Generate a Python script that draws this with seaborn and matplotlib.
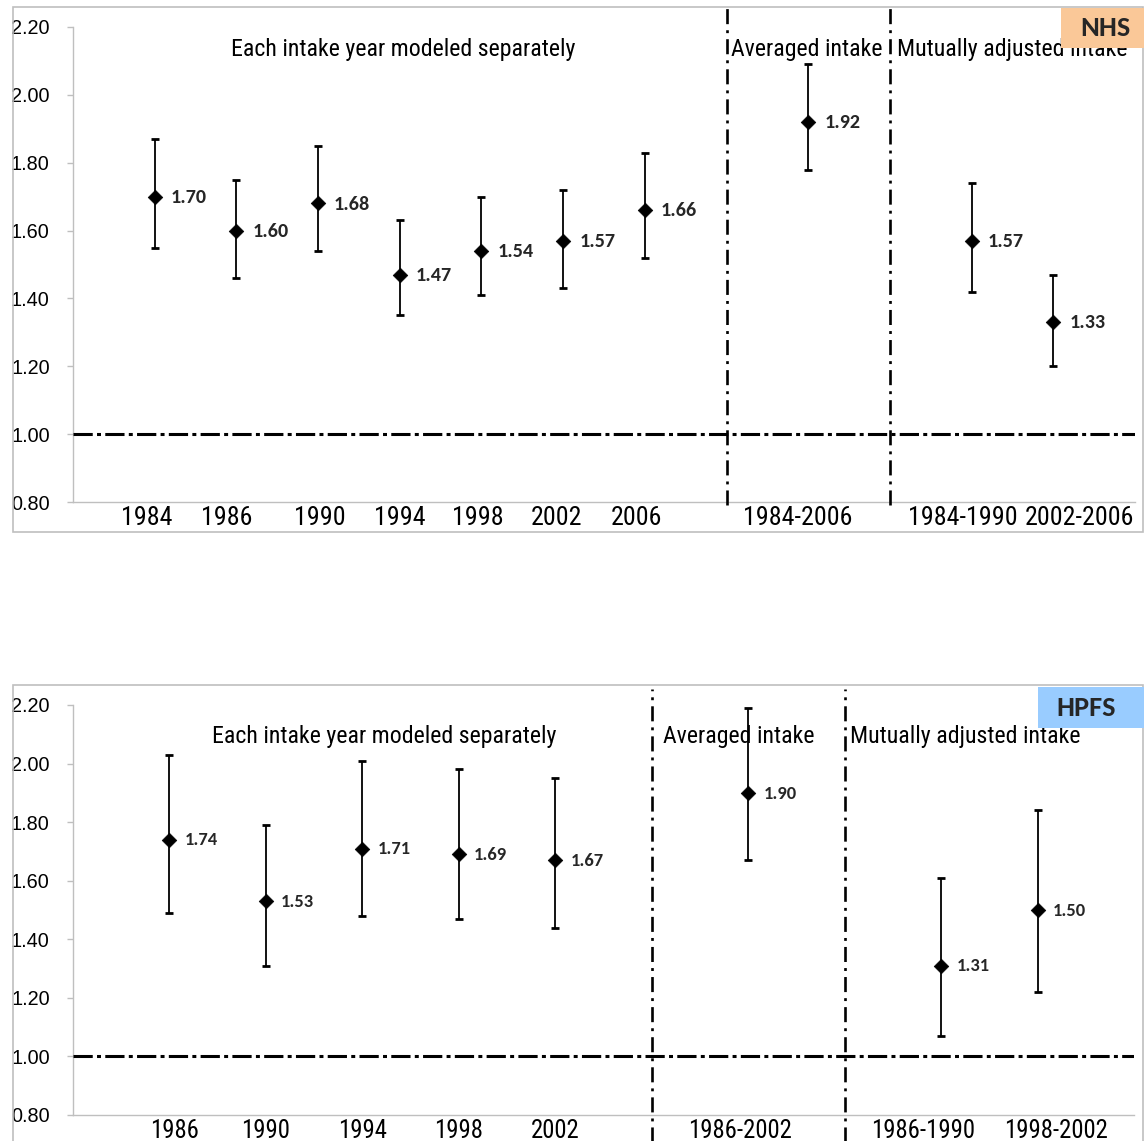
import matplotlib
matplotlib.use("Agg")
import matplotlib.pyplot as plt
import matplotlib.font_manager as fm
from matplotlib.font_manager import FontProperties
from matplotlib.patches import Rectangle
from matplotlib.transforms import ScaledTranslation
import seaborn as sns
import pandas as pd

# ---------------- data ----------------
nhs_labels = ["1984", "1986", "1990", "1994", "1998", "2002", "2006",
              "1984-2006", "1984-1990", "2002-2006"]
nhs_group = [0, 0, 0, 0, 0, 0, 0, 1, 2, 2]
nhs_rr = [1.70, 1.60, 1.68, 1.47, 1.54, 1.57, 1.66, 1.92, 1.57, 1.33]
nhs_lo = [1.55, 1.46, 1.54, 1.35, 1.41, 1.43, 1.52, 1.78, 1.42, 1.20]
nhs_hi = [1.87, 1.75, 1.85, 1.63, 1.70, 1.72, 1.83, 2.09, 1.74, 1.47]

hpfs_labels = ["1986", "1990", "1994", "1998", "2002",
               "1986-2002", "1986-1990", "1998-2002"]
hpfs_group = [0, 0, 0, 0, 0, 1, 2, 2]
hpfs_rr = [1.74, 1.53, 1.71, 1.69, 1.67, 1.90, 1.31, 1.50]
hpfs_lo = [1.49, 1.31, 1.48, 1.47, 1.44, 1.67, 1.07, 1.22]
hpfs_hi = [2.03, 1.79, 2.01, 1.98, 1.95, 2.19, 1.61, 1.84]

section_titles = ["Each intake year modeled separately",
                  "Averaged intake", "Mutually adjusted intake"]
y_ticks = [0.80, 1.00, 1.20, 1.40, 1.60, 1.80, 2.00, 2.20]
cohort_names = ["NHS", "HPFS"]

# ---------------- fonts ----------------
sns.set_theme(style="white")
names = {f.name for f in fm.fontManager.ttflist}
REG = "Liberation Sans" if "Liberation Sans" in names else "DejaVu Sans"
plt.rcParams["font.family"] = [REG, "DejaVu Sans"]


def find_narrow():
    prefs = ["Liberation Sans Narrow", "Arial Narrow", "Roboto Condensed",
             "Open Sans Condensed", "Noto Sans Condensed", "DejaVu Sans Condensed"]
    cands = []
    for f in fm.fontManager.ttflist:
        if f.style != "normal":
            continue
        if f.weight not in (400, "normal", "regular", "book"):
            continue
        nm = f.name
        is_narrow = ("Narrow" in nm or "Condensed" in nm or
                     str(f.stretch) in ("condensed", "semi-condensed", "extra-condensed"))
        if not is_narrow:
            continue
        rank = next((i for i, p in enumerate(prefs) if nm.startswith(p)), len(prefs))
        cands.append((rank, f.fname))
    if cands:
        cands.sort()
        return FontProperties(fname=cands[0][1])
    return FontProperties(family=REG)


NARROW_FP = find_narrow()
BOLDFAM = next((f for f in ["Carlito", "Lato", "Open Sans"] if f in names), "DejaVu Sans")
BOLD_FP = FontProperties(family=BOLDFAM, weight="bold")
REG_FP = FontProperties(family=REG)

W, H = 1144, 1141
fig = plt.figure(figsize=(W / 100, H / 100), dpi=100)
fig.patch.set_facecolor("white")
renderer = fig.canvas.get_renderer()


def fit_size(s, fp, target_px):
    t = fig.text(0, 0, s, fontproperties=fp, fontsize=10)
    w = t.get_window_extent(renderer).width
    t.remove()
    return 10 * target_px / w


XT_TOP = fit_size("1984-2006", NARROW_FP, 108)
XT_BOT = fit_size("1986-2002", NARROW_FP, 103)
SEC_SIZE = fit_size(section_titles[0], NARROW_FP, 341)
YT_SIZE = fit_size("2.20", REG_FP, 39)
LAB_TOP = fit_size("1.70", BOLD_FP, 36)
LAB_BOT = fit_size("1.74", BOLD_FP, 33)
NHS_SIZE = fit_size("NHS", BOLD_FP, 50)

GRAY = "#BFBFBF"
HDASH = (0, (6.3, 1.4, 1.3, 1.4))
VDASH = (0, (5.7, 2.3, 1.1, 2.3))


def positions(groups):
    pos, x, prev = [], 0, None
    for g in groups:
        x += 1 if (prev is None or g == prev) else 2
        pos.append(x)
        prev = g
    return pos


def panel(rect, labels, groups, rr, lo, hi, sec_x, sec_y, vline_bottom,
          lab_off, lab_size, xt_size, xt_shift):
    ax = fig.add_axes([rect[0] / W, 1 - rect[3] / H,
                       (rect[2] - rect[0]) / W, (rect[3] - rect[1]) / H])
    pos = positions(groups)
    df = pd.DataFrame({"x": pos, "rr": rr, "lo": lo, "hi": hi})
    ax.errorbar(df["x"], df["rr"], yerr=[df["rr"] - df["lo"], df["hi"] - df["rr"]],
                fmt="none", ecolor="black", elinewidth=1.3, capsize=2.6,
                capthick=2.0, zorder=4)
    sns.scatterplot(data=df, x="x", y="rr", marker="D", s=55, color="black",
                    edgecolor="black", linewidth=0.5, ax=ax, zorder=5, legend=False)
    for x, v in zip(pos, rr):
        ax.annotate(f"{v:.2f}", (x, v), xytext=(lab_off, -0.5),
                    textcoords="offset points", ha="left", va="center",
                    fontproperties=BOLD_FP, fontsize=lab_size, zorder=6)
    ax.set_xlim(0, pos[-1] + 1)
    ax.set_ylim(0.80, 2.20)
    ax.axhline(1.0, color="black", lw=2.2, linestyle=HDASH, zorder=3)
    for i in range(1, len(groups)):
        if groups[i] != groups[i - 1]:
            xd = (pos[i] + pos[i - 1]) / 2
            ax.plot([xd, xd], [vline_bottom, 1.04], color="black", lw=1.9,
                    linestyle=VDASH, transform=ax.get_xaxis_transform(),
                    clip_on=False, zorder=3)
    for t, xs in zip(section_titles, sec_x):
        ax.text(xs, sec_y, t, transform=ax.get_xaxis_transform(), ha="center",
                va="center", fontproperties=NARROW_FP, fontsize=SEC_SIZE,
                color="black", zorder=2)
    ax.set_xticks(pos)
    ax.set_xticklabels(labels, fontproperties=NARROW_FP, fontsize=xt_size,
                       color="black")
    ax.set_yticks(y_ticks)
    ax.set_yticklabels([f"{v:.2f}" for v in y_ticks], fontproperties=REG_FP,
                       fontsize=YT_SIZE, color="black")
    ax.tick_params(axis="x", length=0, pad=3)
    ax.tick_params(axis="y", direction="out", length=4.3, width=1, color=GRAY,
                   pad=12.5, left=True)
    for lbl, dx in zip(ax.get_xticklabels(), xt_shift):
        if dx:
            lbl.set_transform(lbl.get_transform() +
                              ScaledTranslation(dx / 100, 0, fig.dpi_scale_trans))
    ax.set_xlabel("")
    ax.set_ylabel("")
    for s in ["top", "right"]:
        ax.spines[s].set_visible(False)
    for s in ["left", "bottom"]:
        ax.spines[s].set_color(GRAY)
        ax.spines[s].set_linewidth(1.0)
    ax.set_facecolor("none")
    return ax


ax1 = panel((73, 27, 1135, 502), nhs_labels, nhs_group, nhs_rr, nhs_lo, nhs_hi,
            sec_x=[4.04, 8.98, 11.5], sec_y=0.952, vline_bottom=-0.006,
            lab_off=11.5, lab_size=LAB_TOP, xt_size=XT_TOP,
            xt_shift=[-8, -10, 2, 0, -4, -7, -8, -11, -9, 26])
ax2 = panel((73, 705, 1134, 1115), hpfs_labels, hpfs_group, hpfs_rr, hpfs_lo,
            hpfs_hi, sec_x=[3.23, 6.9, 9.25], sec_y=0.922, vline_bottom=-0.07,
            lab_off=11.0, lab_size=LAB_BOT, xt_size=XT_BOT,
            xt_shift=[5, 0, 0, 0, 0, -8, -18, 18])


def fig_rect(x0, y0, x1, y1, **kw):
    r = Rectangle((x0 / W, 1 - y1 / H), (x1 - x0) / W, (y1 - y0) / H,
                  transform=fig.transFigure, **kw)
    fig.patches.append(r)


fig_rect(13, 7, 1143, 532, fill=False, edgecolor=GRAY, lw=1.2, zorder=1)
fig_rect(13, 685, 1143, 1200, fill=False, edgecolor=GRAY, lw=1.2, zorder=1)

fig_rect(1061, 8, 1150, 48, facecolor="#FAC898", edgecolor="none", zorder=2)
fig.text(1105 / W, 1 - 28 / H, cohort_names[0], ha="center", va="center",
         fontproperties=BOLD_FP, fontsize=NHS_SIZE, zorder=3)
fig_rect(1038, 687, 1150, 728, facecolor="#99CCFF", edgecolor="none", zorder=2)
fig.text(1086 / W, 1 - 708 / H, cohort_names[1], ha="center", va="center",
         fontproperties=BOLD_FP, fontsize=NHS_SIZE, zorder=3)

fig.savefig("out.png", dpi=100, facecolor="white")
